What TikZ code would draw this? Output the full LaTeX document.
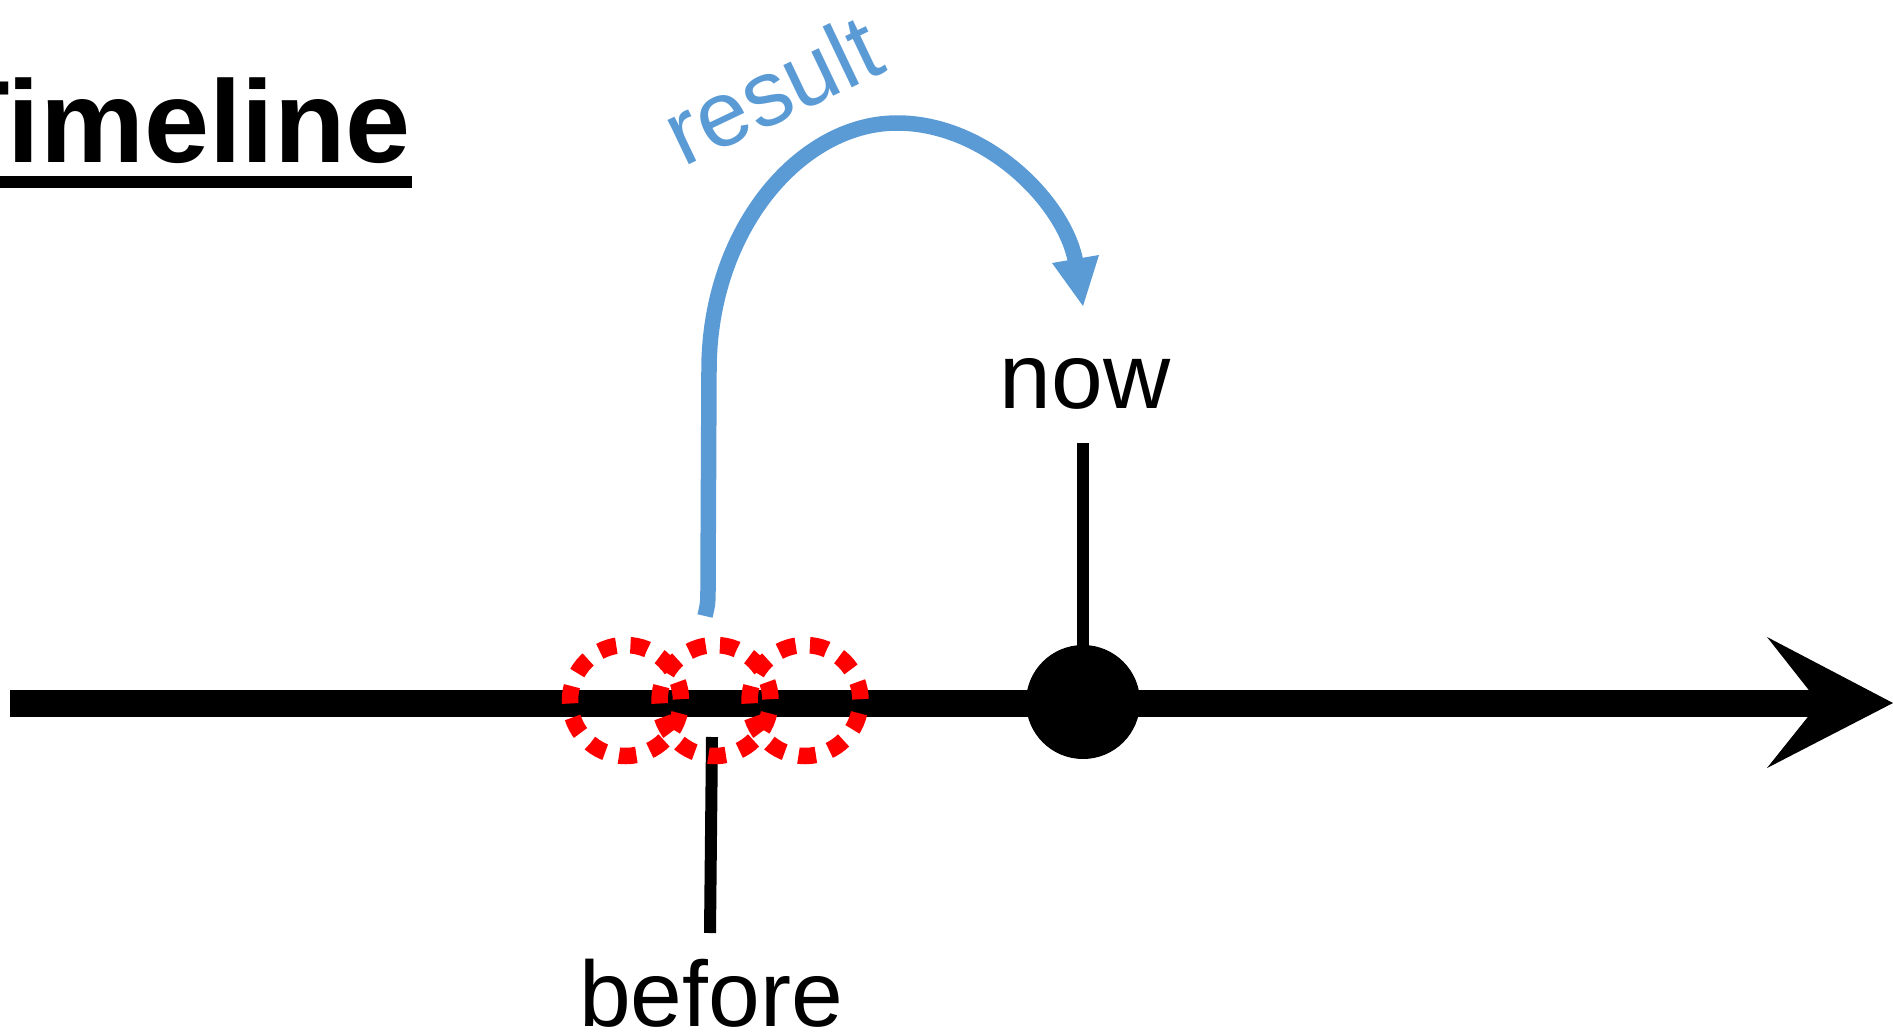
\documentclass[tikz,border=0pt]{standalone}
\usepackage{fontspec}
\setmainfont{Liberation Sans}
\definecolor{resblue}{HTML}{5B9BD5}
\definecolor{ringred}{RGB}{255,0,0}
\tikzset{
  txtlabel/.style={inner sep=0pt, anchor=base, font=\fontsize{93}{100}\selectfont},
  titletext/.style={inner sep=0pt, anchor=base west, font=\fontsize{117}{120}\selectfont\bfseries},
  tickline/.style={line width=12pt, black},
  axisline/.style={line width=27pt, black},
  dotnode/.style={circle, fill=black, inner sep=0pt, minimum size=114pt},
  redring/.style={circle, draw=ringred, line width=16.5pt, inner sep=0pt, minimum size=111pt,
                  dash pattern=on 17.5pt off 14.2pt, dash phase=30.4pt},
  resultline/.style={line width=15.5pt, resblue},
}
\begin{document}
\begin{tikzpicture}[x=1pt, y=-1pt]
\useasboundingbox (0,0) rectangle (1893,1034);
% title
\node[titletext] (title) at (-62,162) {Timeline};
\coordinate (ulA) at (-62,182);
\coordinate (ulB) at (412,182);
\draw[line width=12pt] (ulA) -- (ulB);
% main timeline
\coordinate (tstart) at (10,703);
\coordinate (tnotch) at (1819,703);
\coordinate (ttip) at (1893,703);
\coordinate (tb1) at (1767,637);
\coordinate (tb2) at (1767,768);
\draw[axisline] (tstart) -- (tnotch);
\fill[black] (ttip) -- (tb1) -- (tnotch) -- (tb2) -- cycle;
% now
\node[dotnode] (nowdot) at (1083,702) {};
\node[txtlabel] (nowlbl) at (1085,408) {now};
\coordinate (nowtop) at (1083,443);
\draw[tickline] (nowtop) -- (nowdot.center);
% before
\coordinate (beforetop) at (712,737);
\coordinate (beforebot) at (710,933);
\draw[tickline] (beforetop) -- (beforebot);
\node[txtlabel] (beforelbl) at (711,1026) {before};
% red dotted rings
\node[redring] (ring1) at (625.5,700.5) {};
\node[redring] (ring2) at (715,700.5) {};
\node[redring] (ring3) at (805,700.5) {};
% result arrow
\coordinate (rstart) at (705,616);
\coordinate (rend) at (1076,264);
\coordinate (rtip) at (1083,306);
\coordinate (rb1) at (1052,263);
\coordinate (rb2) at (1099,255);
\draw[resultline] (rstart) .. controls (708,603) .. (708,585) -- (709,370)
   .. controls (709,230) and (800,123) .. (897,123)
   .. controls (988,123) and (1067,205) .. (rend);
\fill[resblue] (rtip) -- (rb1) -- (rb2) -- cycle;
\node[txtlabel, text=resblue, rotate=25.5] (resultlbl) at (786,119) {result};
\end{tikzpicture}
\end{document}
